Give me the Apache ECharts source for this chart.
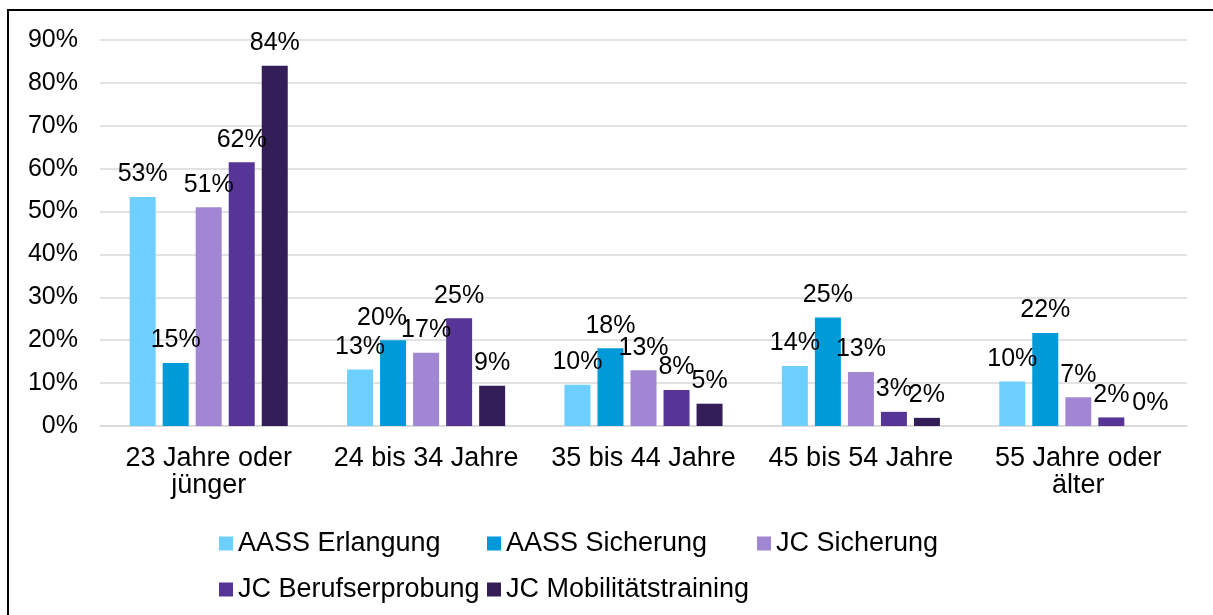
<!DOCTYPE html>
<html lang="de">
<head>
<meta charset="UTF-8">
<title>Altersgruppen</title>
<script src="https://cdn.jsdelivr.net/npm/echarts@6/dist/echarts.min.js"></script>
<style>
  html, body { margin: 0; padding: 0; background: #fff; }
  #chart { width: 1213px; height: 615px; }
</style>
</head>
<body>
<div id="chart"></div>
<script type="text/javascript">
var categories = ['23 Jahre oder\njünger', '24 bis 34 Jahre', '35 bis 44 Jahre', '45 bis 54 Jahre', '55 Jahre oder\nälter'];
var seriesNames = ['AASS Erlangung', 'AASS Sicherung', 'JC Sicherung', 'JC Berufserprobung', 'JC Mobilitätstraining'];
var aassErlangung = [53.4, 13.2, 9.6, 14.0, 10.4];
var aassSicherung = [14.7, 20.0, 18.1, 25.3, 21.7];
var jcSicherung = [51.0, 17.1, 13.0, 12.6, 6.7];
var jcBerufserprobung = [61.5, 25.1, 8.4, 3.3, 2.0];
var jcMobilitaet = [84.0, 9.4, 5.2, 1.9, 0];
var yTicks = [0, 10, 20, 30, 40, 50, 60, 70, 80, 90];

var colors = ['#6dcffe', '#009ad9', '#a086d3', '#563597', '#331e58'];
var values = [aassErlangung, aassSicherung, jcSicherung, jcBerufserprobung, jcMobilitaet];
var font = 'Liberation Sans, Arial, sans-serif';
var fs = 25;
var fsText = 27;

// a couple of labels sit off-centre in the original ([series, category, dx])
var labelShift = [[1, 1, -11], [4, 4, 6]];

var chart = echarts.init(document.getElementById('chart'));

var series = [];
for (var i = 0; i < seriesNames.length; i++) {
    var data = values[i].map(function (v, k) {
        var item = { value: v };
        labelShift.forEach(function (s) {
            if (s[0] === i && s[1] === k) item.label = { offset: [s[2], 0] };
        });
        return item;
    });
    series.push({
        name: seriesNames[i],
        type: 'bar',
        data: data,
        barWidth: 26,
        barGap: '27%',
        itemStyle: { color: colors[i] },
        label: {
            show: true,
            position: 'top',
            distance: 10,
            color: '#000',
            fontSize: fs,
            fontFamily: font,
            formatter: function (p) { return Math.round(p.value) + '%'; }
        }
    });
}

// legend items placed one by one like the original
var legendPos = [[219, 530], [487, 530], [757, 530], [219, 576], [487, 576]];
var legends = [];
for (var j = 0; j < seriesNames.length; j++) {
    legends.push({
        data: [seriesNames[j]],
        left: legendPos[j][0],
        top: legendPos[j][1],
        icon: 'rect',
        itemWidth: 14,
        itemHeight: 14,
        padding: 0,
        textStyle: { color: '#000', fontSize: fsText, fontFamily: font }
    });
}

var option = {
    animation: false,
    backgroundColor: '#fff',
    textStyle: { fontFamily: font },
    legend: legends,
    grid: { left: 100, right: 26, top: 40, bottom: 189, containLabel: false },
    xAxis: {
        type: 'category',
        data: categories,
        axisTick: { show: false },
        axisLine: { show: true, lineStyle: { color: '#d9d9d9', width: 1.5 } },
        axisLabel: {
            color: '#000',
            fontSize: fsText,
            fontFamily: font,
            lineHeight: 27,
            margin: 19,
            interval: 0
        }
    },
    yAxis: {
        type: 'value',
        min: yTicks[0],
        max: yTicks[yTicks.length - 1],
        interval: 10,
        axisLine: { show: false },
        axisTick: { show: false },
        splitLine: { lineStyle: { color: '#d9d9d9', width: 1.5 } },
        axisLabel: {
            color: '#000',
            fontSize: fs,
            fontFamily: font,
            margin: 22,
            formatter: '{value}%'
        }
    },
    graphic: [
        { type: 'line', shape: { x1: 8, y1: 10, x2: 8, y2: 615 }, style: { stroke: '#000', lineWidth: 2 } },
        { type: 'line', shape: { x1: 7, y1: 10, x2: 1213, y2: 10 }, style: { stroke: '#000', lineWidth: 2 } }
    ],
    series: series
};

chart.setOption(option);
</script>
</body>
</html>
